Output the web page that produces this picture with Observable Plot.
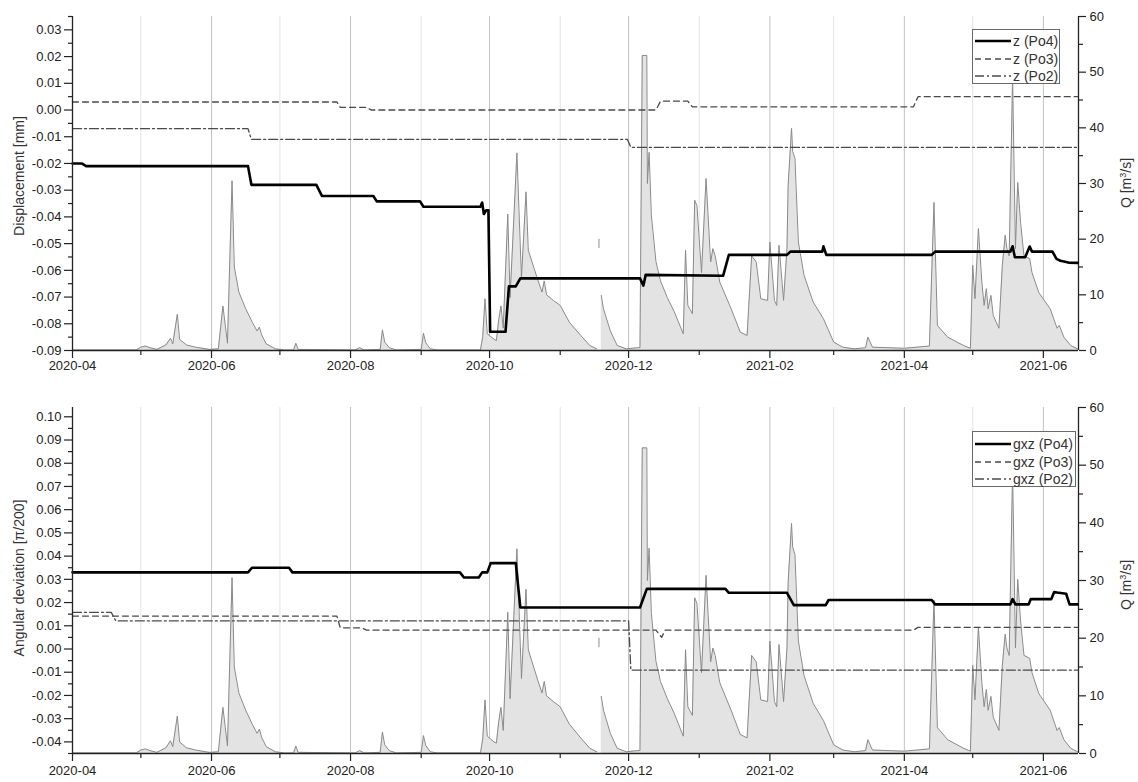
<!DOCTYPE html>
<html>
<head>
<meta charset="utf-8">
<script src="https://cdn.jsdelivr.net/npm/d3@7"></script>
<script src="https://cdn.jsdelivr.net/npm/@observablehq/plot@0.6"></script>
<style>
  body { margin: 0; background: #fff; font-family: "Liberation Sans", Arial, sans-serif; }
  #wrap { position: relative; width: 1138px; height: 782px; overflow: hidden; background: #fff; }
  .layer { position: absolute; left: 0; }
  .title { position: absolute; font-size: 14px; color: #333; white-space: nowrap;
           transform: translate(-50%, -50%) rotate(-90deg); }
  .legend { position: absolute; background: #fff; border: 1px solid #6a6a6a; box-sizing: border-box; }
  .legend .row { position: absolute; left: 0; height: 18px; font-size: 14px; color: #333; line-height: 18px; white-space: nowrap; }
  .legend .row svg { position: absolute; left: 2px; top: 0; }
  .legend .row span { position: absolute; left: 40px; top: 0; }
</style>
</head>
<body>
<div id="wrap"></div>
<script>
// ---------------- data ----------------
// Discharge Q [m3/s]
const qDates = [
  "2020-04-01","2020-04-29","2020-05-01","2020-05-03","2020-05-05","2020-05-08","2020-05-12","2020-05-14",
  "2020-05-15","2020-05-17","2020-05-18","2020-05-21","2020-05-25","2020-05-31","2020-06-04","2020-06-06",
  "2020-06-08","2020-06-10","2020-06-11","2020-06-13","2020-06-16","2020-06-19","2020-06-21","2020-06-22",
  "2020-06-23","2020-06-25","2020-06-29","2020-07-03","2020-07-07","2020-07-08","2020-07-09","2020-08-03",
  "2020-08-05","2020-08-07","2020-08-14","2020-08-15","2020-08-16","2020-08-18","2020-08-21","2020-09-01",
  "2020-09-02","2020-09-03","2020-09-05","2020-09-08","2020-09-27","2020-09-28","2020-09-29","2020-09-30",
  "2020-10-03","2020-10-04","2020-10-05","2020-10-06","2020-10-07","2020-10-09","2020-10-10","2020-10-13",
  "2020-10-15","2020-10-17","2020-10-18","2020-10-22","2020-10-24","2020-10-25","2020-10-26","2020-10-29",
  "2020-11-01","2020-11-05","2020-11-10","2020-11-14","2020-11-17","2020-11-17T12","2020-11-18","2020-11-18",
  "2020-11-18T12","2020-11-19","2020-11-20","2020-11-23","2020-11-26","2020-11-30","2020-12-05","2020-12-06",
  "2020-12-07","2020-12-09","2020-12-09T06","2020-12-10","2020-12-11","2020-12-13","2020-12-15","2020-12-18",
  "2020-12-21","2020-12-25","2020-12-26","2020-12-27","2020-12-29","2020-12-30","2020-12-31","2021-01-02",
  "2021-01-04","2021-01-06","2021-01-07","2021-01-08","2021-01-10","2021-01-15","2021-01-19","2021-01-22",
  "2021-01-24","2021-01-26","2021-01-28","2021-01-31","2021-02-01","2021-02-03","2021-02-04","2021-02-05",
  "2021-02-07","2021-02-08T12","2021-02-09","2021-02-10T12","2021-02-11","2021-02-12","2021-02-13T12","2021-02-16",
  "2021-02-20","2021-02-24T12","2021-03-01","2021-03-05","2021-03-10","2021-03-15","2021-03-16","2021-03-18",
  "2021-04-01","2021-04-12","2021-04-14","2021-04-15T12","2021-04-20","2021-04-27","2021-04-30","2021-05-01",
  "2021-05-02","2021-05-03T12","2021-05-05","2021-05-06","2021-05-07","2021-05-07T18","2021-05-09","2021-05-10",
  "2021-05-12T12","2021-05-14","2021-05-15T06","2021-05-16","2021-05-17","2021-05-18T12","2021-05-19T18","2021-05-20T18",
  "2021-05-22","2021-05-23T12","2021-05-26","2021-05-27","2021-05-30","2021-06-04","2021-06-07","2021-06-08",
  "2021-06-10","2021-06-13","2021-06-16"
];
const qValues = [
  0.1,0.1,0.6,0.8,0.5,0.2,1.0,2.2,
  1.2,6.5,2.0,1.0,0.6,0.2,0.3,8.0,
  1.3,30.5,15,10.5,7.5,5.0,3.5,4.2,
  2.8,1.2,0.3,0.1,0.1,1.3,0.2,0.1,
  0.5,0.1,0.2,3.7,1.5,0.5,0.1,0.2,
  3.1,1.4,0.3,0.1,0.1,2.5,9.3,3.0,
  2.0,1.8,5.5,8.0,4.0,24.5,9.5,35.5,
  13,28.5,18,12.9,10.5,12.5,10,9.0,
  8.1,5.1,2.7,0.9,0.3,null,20,18.5,
  null,9.9,7.5,3.5,0.9,0.3,0.5,0.5,
  53,53,30,35.6,24.3,16,12.5,9.5,
  7,3.0,18,8.1,6.6,27,26,14,
  30.9,15.9,18.3,17,12.3,7.5,3.3,2.7,
  17,15.9,9.3,9,19.5,9,8.1,18.9,
  9,18.3,29.6,39.9,35.8,34.5,19.5,13.5,
  8.7,5.7,1.5,0.6,0.3,0.5,2.4,0.6,
  0.4,0.8,26.6,4.5,2.4,0.9,0.4,15.3,
  9.3,21.9,12.3,8.1,11.1,7.5,9.9,6.3,
  4,15.3,20.7,18.3,17,49,18.3,30.2,
  23,17,16.5,14,10.4,7.5,4,4.5,
  2.4,0.9,0.3
];

// Displacement z [mm]
const zPo4Dates = ["2020-04-01","2020-04-05","2020-04-07","2020-06-17","2020-06-18T12","2020-07-17","2020-07-19T12","2020-08-11",
  "2020-08-12T12","2020-08-31T12","2020-09-02","2020-09-27","2020-09-27T18","2020-09-28T12","2020-09-29T12","2020-09-30T12",
  "2020-10-01T06","2020-10-08","2020-10-09T12","2020-10-12T12","2020-10-14T12","2020-12-06","2020-12-07T12","2020-12-08T12",
  "2021-01-11T12","2021-01-14","2021-02-08T12","2021-02-10","2021-02-24","2021-02-24T12","2021-02-25T18","2021-04-13",
  "2021-04-14T12","2021-05-17T12","2021-05-18T12","2021-05-19T12","2021-05-24","2021-05-26","2021-05-27","2021-06-05",
  "2021-06-06T18","2021-06-08T12","2021-06-12","2021-06-16"];
const zPo4Values = [-0.020,-0.020,-0.021,-0.021,-0.028,-0.028,-0.0322,-0.0322,
  -0.0342,-0.0342,-0.0362,-0.0362,-0.0346,-0.0389,-0.0375,-0.0375,
  -0.0830,-0.0830,-0.0660,-0.0660,-0.0630,-0.0630,-0.0657,-0.0617,
  -0.0620,-0.0542,-0.0542,-0.0530,-0.0530,-0.0510,-0.0542,-0.0542,
  -0.0530,-0.0530,-0.0510,-0.0551,-0.0551,-0.0511,-0.0530,-0.0530,
  -0.0557,-0.0564,-0.0571,-0.0572];
const zPo3Dates = ["2020-04-01","2020-07-26","2020-07-27T12","2020-08-08","2020-08-10","2020-12-13","2020-12-15","2020-12-27",
  "2020-12-29","2021-04-05","2021-04-07","2021-06-16"];
const zPo3Values = [0.003,0.003,0.001,0.001,0.0,0.0,0.0033,0.0033,0.0012,0.0012,0.005,0.005];
const zPo2Dates = ["2020-04-01","2020-06-17","2020-06-18T12","2020-11-30T12","2020-12-02","2021-06-16"];
const zPo2Values = [-0.007,-0.007,-0.011,-0.011,-0.014,-0.014];

// Angular deviation gxz [pi/200]
const gPo4Dates = ["2020-04-01","2020-06-17","2020-06-18T18","2020-07-05","2020-07-06T12","2020-09-18","2020-09-19T18","2020-09-26T06",
  "2020-09-27T18","2020-09-30","2020-10-01T12","2020-10-12T12","2020-10-14T12","2020-12-06","2020-12-09","2021-01-12T12",
  "2021-01-14","2021-02-08T12","2021-02-11T12","2021-02-25T12","2021-02-26T18","2021-04-13","2021-04-14T12","2021-05-17T12",
  "2021-05-18T12","2021-05-19T18","2021-05-25T12","2021-05-26T12","2021-06-04T12","2021-06-05T18","2021-06-07","2021-06-11",
  "2021-06-12T12","2021-06-16"];
const gPo4Values = [0.033,0.033,0.035,0.035,0.033,0.033,0.0308,0.0308,
  0.033,0.033,0.037,0.037,0.0179,0.0179,0.0259,0.0259,
  0.0242,0.0242,0.0189,0.0189,0.0211,0.0211,0.0192,0.0192,
  0.0215,0.0192,0.0192,0.0215,0.0215,0.0245,0.0243,0.0238,
  0.0192,0.0192];
const gPo3Dates = ["2020-04-01","2020-07-26","2020-07-27T12","2020-08-06","2020-08-08","2020-12-13","2020-12-15T12","2020-12-17",
  "2021-04-05","2021-04-07","2021-06-16"];
const gPo3Values = [0.0142,0.0142,0.0091,0.0091,0.0081,0.0081,0.005,0.0081,0.0081,0.0093,0.0093];
const gPo2Dates = ["2020-04-01","2020-04-18","2020-04-20","2020-12-01","2020-12-02","2021-06-16"];
const gPo2Values = [0.0158,0.0158,0.0121,0.0121,-0.0091,-0.0091];

// axes
const xStart = "2020-04-01";
const xEnd = "2021-06-16T10";
const xMajorTicks = ["2020-04-01","2020-06-01","2020-08-01","2020-10-01","2020-12-01","2021-02-01","2021-04-01","2021-06-01"];
const xMinorTicks = ["2020-05-01","2020-07-01","2020-09-01","2020-11-01","2021-01-01","2021-03-01","2021-05-01"];
const qTicks = [0, 10, 20, 30, 40, 50, 60];
const qMinorTicks = [5, 15, 25, 35, 45, 55];
const zTicks = [-0.09,-0.08,-0.07,-0.06,-0.05,-0.04,-0.03,-0.02,-0.01,0.00,0.01,0.02,0.03];
const zMinorTicks = [-0.085,-0.075,-0.065,-0.055,-0.045,-0.035,-0.025,-0.015,-0.005,0.005,0.015,0.025,0.035];
const gTicks = [-0.04,-0.03,-0.02,-0.01,0.00,0.01,0.02,0.03,0.04,0.05,0.06,0.07,0.08,0.09,0.10];
const gMinorTicks = [-0.045,-0.035,-0.025,-0.015,-0.005,0.005,0.015,0.025,0.035,0.045,0.055,0.065,0.075,0.085,0.095];
const zLegend = ["z (Po4)", "z (Po3)", "z (Po2)"];
const gLegend = ["gxz (Po4)", "gxz (Po3)", "gxz (Po2)"];

// ---------------- helpers ----------------
const parse = s => new Date(s.length === 10 ? s + "T00:00:00Z" : s + ":00:00Z");
const rows = (dates, values) => dates.map((d, i) => ({date: parse(d), v: values[i]}));
const qRows = rows(qDates, qValues);
const xDomain = [parse(xStart), parse(xEnd)];
const majorDates = xMajorTicks.map(parse);
const minorDates = xMinorTicks.map(parse);
const gridMajor = majorDates.slice(1);
const gridMinor = minorDates;

const W = 1138, ML = 72, MR = 60;
const FONT = '"Liberation Sans", Arial, sans-serif';
const AX = "#222";
const fmtMonth = d3.utcFormat("%Y-%m");

const styles = {
  Po4: {stroke: "#000", strokeWidth: 2.6},
  Po3: {stroke: "#4a4a4a", strokeWidth: 1.3, strokeDasharray: "6,4"},
  Po2: {stroke: "#4a4a4a", strokeWidth: 1.3, strokeDasharray: "9,3,2,3"}
};

function qLayer(h, mt, mb, pad) {
  return Plot.plot({
    width: W, height: h, marginLeft: ML, marginRight: MR, marginTop: mt, marginBottom: mb,
    style: {fontFamily: FONT, fontSize: "13px", color: AX, background: "transparent", overflow: "visible"},
    x: {type: "utc", domain: xDomain, axis: null},
    y: {domain: [0, 60], axis: null},
    marks: [
      Plot.ruleX(gridMinor, {stroke: "#e3e3e3", strokeWidth: 1}),
      Plot.ruleX(gridMajor, {stroke: "#c2c2c2", strokeWidth: 1}),
      Plot.area(qRows, {x1: "date", y1: 0, y2: "v", fill: "#e3e3e3"}),
      Plot.line(qRows, {x: "date", y: "v", stroke: "#8a8a8a", strokeWidth: 1}),
      Plot.axisX(majorDates, {tickFormat: fmtMonth, tickSize: 8, tickPadding: pad, strokeWidth: 1.2, label: null}),
      Plot.axisX(minorDates, {tickFormat: () => "", tickSize: 5, strokeWidth: 1.2, label: null}),
      Plot.axisY(qTicks, {anchor: "right", tickSize: 7, tickPadding: 4, strokeWidth: 1.2, label: null}),
      Plot.axisY(qMinorTicks, {anchor: "right", tickSize: 4, tickFormat: () => "", strokeWidth: 1.2, label: null}),
      Plot.ruleY([0], {stroke: AX, strokeWidth: 1.3}),
      Plot.ruleX([xDomain[1]], {stroke: AX, strokeWidth: 1.3})
    ]
  });
}

function lineLayer(h, mt, mb, yDomain, ticks, minor, s4, s3, s2) {
  return Plot.plot({
    width: W, height: h, marginLeft: ML, marginRight: MR, marginTop: mt, marginBottom: mb,
    style: {fontFamily: FONT, fontSize: "13px", color: AX, background: "transparent", overflow: "visible"},
    x: {type: "utc", domain: xDomain, axis: null},
    y: {domain: yDomain, axis: null},
    marks: [
      Plot.line(s3, {x: "date", y: "v", ...styles.Po3}),
      Plot.line(s2, {x: "date", y: "v", ...styles.Po2}),
      Plot.line(s4, {x: "date", y: "v", ...styles.Po4}),
      Plot.axisY(ticks, {anchor: "left", tickSize: 8, tickPadding: 3, strokeWidth: 1.2, tickFormat: d => d.toFixed(2), label: null}),
      Plot.axisY(minor, {anchor: "left", tickSize: 4, tickFormat: () => "", strokeWidth: 1.2, label: null}),
      Plot.ruleX([xDomain[0]], {stroke: AX, strokeWidth: 1.3})
    ]
  });
}

const wrap = document.getElementById("wrap");
function place(node, top) {
  node.classList.add("layer");
  node.style.top = top + "px";
  node.style.position = "absolute";
  wrap.appendChild(node);
}

// top panel: frame y 16..350
place(qLayer(382, 16, 32, 2), 0);
place(lineLayer(382, 16, 32, [-0.09, 0.035], zTicks, zMinorTicks,
  rows(zPo4Dates, zPo4Values), rows(zPo3Dates, zPo3Values), rows(zPo2Dates, zPo2Values)), 0);

// bottom panel: frame y 407..753
place(qLayer(400, 25, 29, 4), 382);
place(lineLayer(400, 25, 29, [-0.045, 0.104], gTicks, gMinorTicks,
  rows(gPo4Dates, gPo4Values), rows(gPo3Dates, gPo3Values), rows(gPo2Dates, gPo2Values)), 382);

// axis titles
function title(text, x, y, html) {
  const d = document.createElement("div");
  d.className = "title";
  if (html) d.innerHTML = text; else d.textContent = text;
  d.style.left = x + "px";
  d.style.top = y + "px";
  wrap.appendChild(d);
}
title("Displacement [mm]", 19, 176);
title("Q [m<sup style='font-size:9px'>3</sup>/s]", 1126, 183, true);
title("Angular deviation [π/200]", 19, 578);
title("Q [m<sup style='font-size:9px'>3</sup>/s]", 1126, 585, true);

// legends
function legend(labels, left, top, width, height, centers) {
  const box = document.createElement("div");
  box.className = "legend";
  Object.assign(box.style, {left: left + "px", top: top + "px", width: width + "px", height: height + "px"});
  const keys = ["Po4", "Po3", "Po2"];
  labels.forEach((lab, i) => {
    const r = document.createElement("div");
    r.className = "row";
    r.style.top = (centers[i] - top - 9) + "px";
    const st = styles[keys[i]];
    r.innerHTML = `<svg width="36" height="18"><line x1="0" x2="36" y1="9" y2="9" stroke="${st.stroke}" stroke-width="${st.strokeWidth}" ${st.strokeDasharray ? `stroke-dasharray="${st.strokeDasharray}"` : ""}/></svg>`;
    const sp = document.createElement("span");
    sp.textContent = lab;
    r.appendChild(sp);
    box.appendChild(r);
  });
  wrap.appendChild(box);
}
legend(zLegend, 972, 29, 88, 55, [40, 58, 75]);
legend(gLegend, 972, 431, 104, 56, [443, 461, 478]);
</script>
</body>
</html>
